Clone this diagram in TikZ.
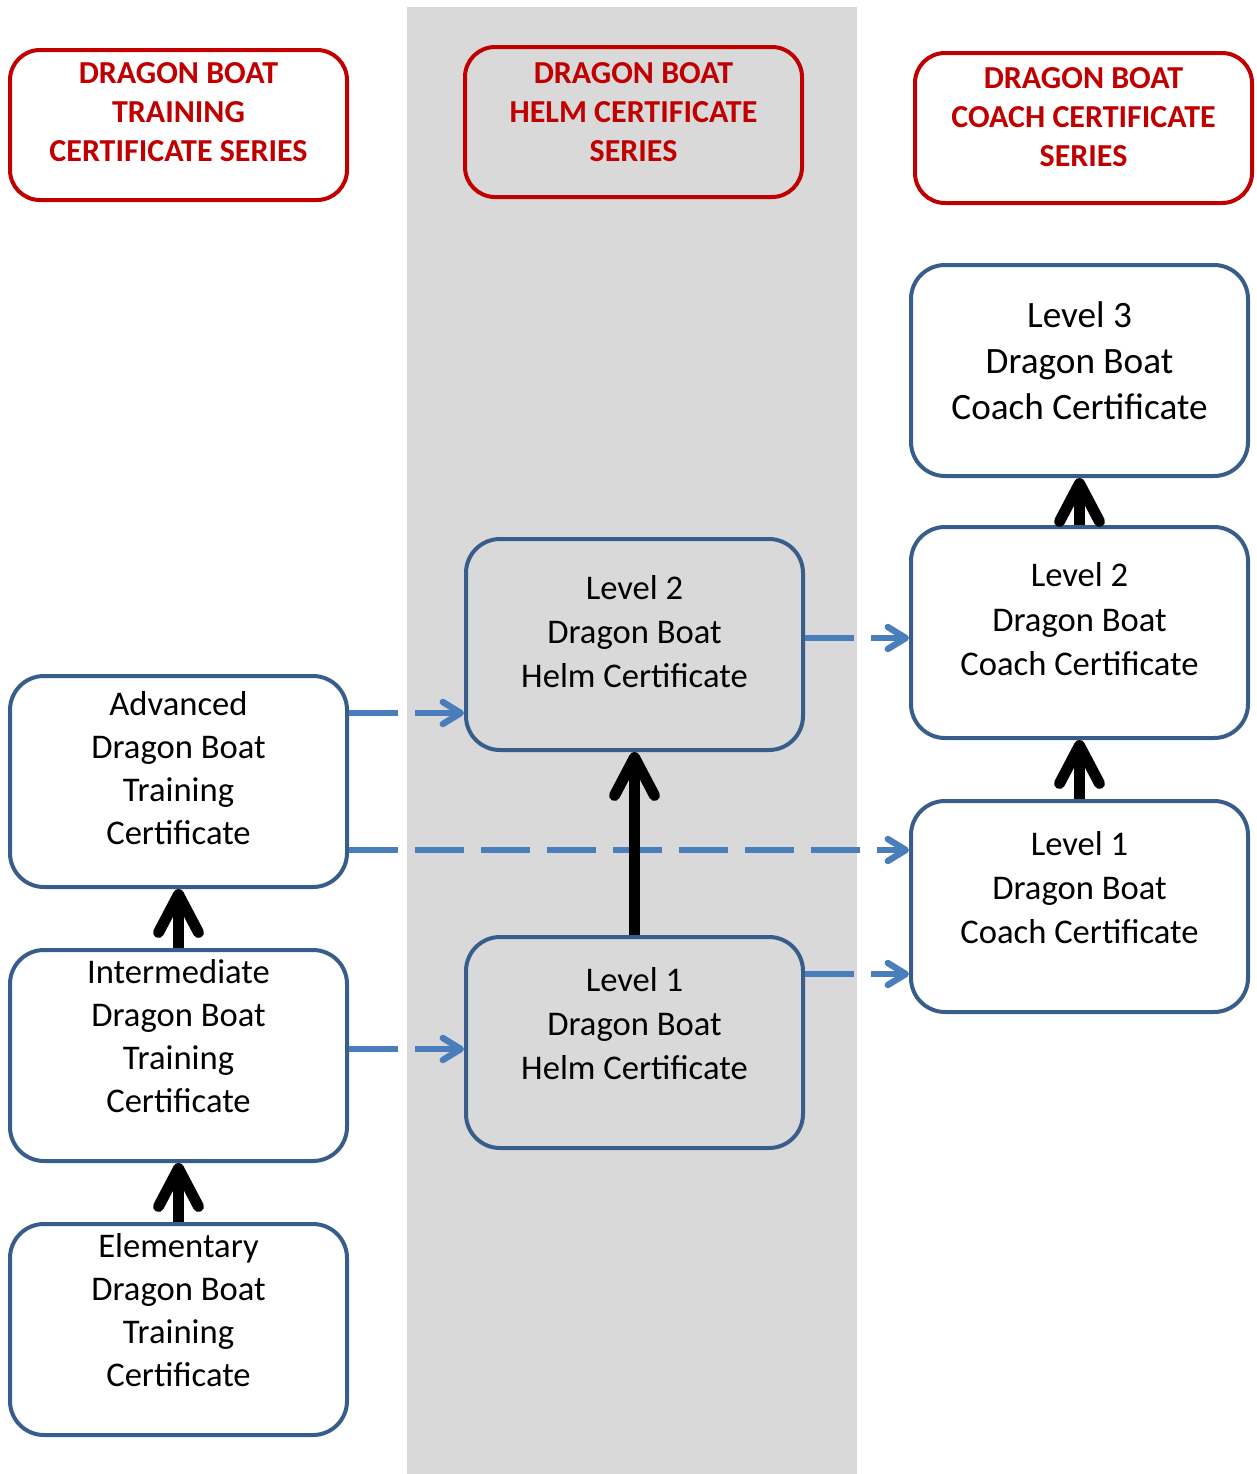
\documentclass[tikz,border=0pt]{standalone}
\usepackage{fontspec}
\setmainfont{Carlito}
\usetikzlibrary{arrows.meta,calc,positioning}
\definecolor{headred}{HTML}{C00000}
\definecolor{boxblue}{HTML}{385D8A}
\definecolor{linkblue}{HTML}{4A7EBB}
\definecolor{bandgray}{HTML}{D9D9D9}
\tikzset{
    head/.style={draw=headred, line width=2pt, rounded corners=15pt,
        minimum width=168.5pt, minimum height=75pt},
    headtext/.style={text=headred, align=center,
        font=\fontsize{16}{19.5}\selectfont\bfseries},
    cert/.style={draw=boxblue, line width=2pt, rounded corners=17pt,
        minimum width=168.5pt, minimum height=105.5pt},
    certtext/.style={align=center, font=\fontsize{17.3}{21.5}\selectfont},
    upward/.style={line width=5.5pt,
        -{Straight Barb[length=19pt, width=20pt, round]}},
    link/.style={draw=linkblue, line width=3.2pt,
        dash pattern=on 24.5pt off 8.5pt,
        -{Straight Barb[length=9pt, width=11pt, round]}}
}

\begin{document}
\begin{tikzpicture}[x=0.5pt, y=-0.5pt]
    \useasboundingbox (0, 0) rectangle (1257, 1474);
    \fill[bandgray] (407, 7) rectangle (857, 1474);

    % series headings
    \node[head, label={[headtext, yshift=6.5pt]center:{DRAGON BOAT\\TRAINING\\CERTIFICATE SERIES}}]
        (trainhead) at (178.5, 125) {};
    \node[head, label={[headtext, yshift=5pt]center:{DRAGON BOAT\\HELM CERTIFICATE\\SERIES}}]
        (helmhead) at (633.5, 122) {};
    \node[head, label={[headtext, yshift=5.5pt]center:{DRAGON BOAT\\COACH CERTIFICATE\\SERIES}}]
        (coachhead) at (1083.5, 128) {};

    % training
    \node[cert, label={[certtext, yshift=6.5pt]center:{Advanced\\Dragon Boat\\Training\\Certificate}}]
        (advanced) at (178.5, 781.5) {};
    \node[cert, label={[certtext, yshift=9.5pt]center:{Intermediate\\Dragon Boat\\Training\\Certificate}}]
        (intermediate) at (178.5, 1055.5) {};
    \node[cert, label={[certtext, yshift=9.5pt]center:{Elementary\\Dragon Boat\\Training\\Certificate}}]
        (elementary) at (178.5, 1329.5) {};

    % helm
    \node[cert, label={[certtext, yshift=6.5pt, font=\fontsize{17.3}{22}\selectfont]center:{Level 2\\Dragon Boat\\Helm Certificate}}]
        (helmtwo) at (634.5, 644.5) {};
    \node[cert, label={[certtext, yshift=9.5pt, font=\fontsize{17.3}{22}\selectfont]center:{Level 1\\Dragon Boat\\Helm Certificate}}]
        (helmone) at (634.5, 1042.5) {};

    % coach
    \node[cert, label={[certtext, yshift=4.75pt, font=\fontsize{18.6}{23}\selectfont]center:{Level 3\\Dragon Boat\\Coach Certificate}}]
        (coachthree) at (1079.5, 370.5) {};
    \node[cert, label={[certtext, yshift=6.5pt, font=\fontsize{17.3}{22.2}\selectfont]center:{Level 2\\Dragon Boat\\Coach Certificate}}]
        (coachtwo) at (1079.5, 632.5) {};
    \node[cert, label={[certtext, yshift=9.5pt, font=\fontsize{17.3}{22.2}\selectfont]center:{Level 1\\Dragon Boat\\Coach Certificate}}]
        (coachone) at (1079.5, 906.5) {};

    % dashed links between series
    \coordinate (advhigh) at ($(advanced.east)+(0,-68.5)$);
    \coordinate (advlow) at ($(advanced.east)+(0,68.5)$);
    \coordinate (interlink) at ($(intermediate.east)+(0,-6.5)$);
    \coordinate (helmtwolink) at ($(helmtwo.east)+(0,-6.5)$);
    \coordinate (helmonelink) at ($(helmone.east)+(0,-68.5)$);
    \draw[link] (advhigh) -- (advhigh -| helmtwo.west);
    \draw[link] (advlow) -- (advlow -| coachone.west);
    \draw[link] (interlink) -- (interlink -| helmone.west);
    \draw[link] (helmtwolink) -- (helmtwolink -| coachtwo.west);
    \draw[link] (helmonelink) -- (helmonelink -| coachone.west);

    % progression within a series
    \draw[upward] (elementary.north) -- (intermediate.south);
    \draw[upward] (intermediate.north) -- (advanced.south);
    \draw[upward] (helmone.north) -- (helmtwo.south);
    \draw[upward] (coachone.north) -- (coachtwo.south);
    \draw[upward] (coachtwo.north) -- (coachthree.south);
\end{tikzpicture}
\end{document}
